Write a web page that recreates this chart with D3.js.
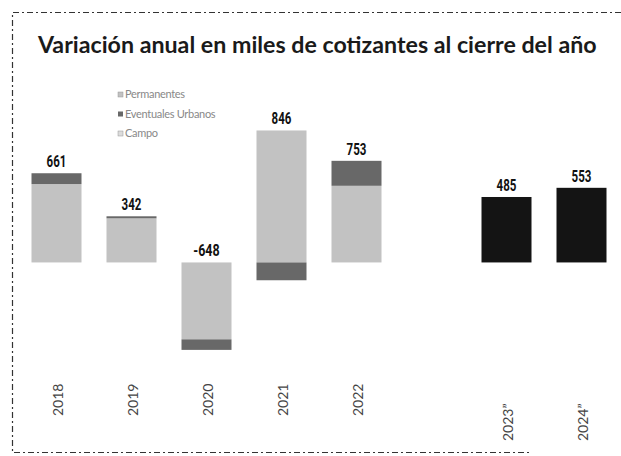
<!DOCTYPE html>
<html><head><meta charset="utf-8">
<script src="https://cdn.jsdelivr.net/npm/d3@7/dist/d3.min.js"></script>
<style>body{margin:0;background:#fff}svg{display:block}</style>
</head><body><svg id="c" width="621" height="456"></svg>
<script>
const categories = ["2018","2019","2020","2021","2022","","2023*","2024*"];
const tickLabels = ["2018","2019","2020","2021","2022","","2023\u201d","2024\u201d"];
const permanentes = [581, 327, -570, 978, 568, null, null, null];
const eventuales  = [80, 15, -78, -132, 185, null, null, null];
const campo       = [0, 0, 0, 0, 0, null, null, null];
const proyeccion  = [null, null, null, null, null, null, 485, 553];
const totals      = [661, 342, -648, 846, 753, null, 485, 553];
const seriesNames = ["Permanentes","Eventuales Urbanos","Campo"];
const seriesColors = ["#c2c2c2","#686868","#dcdcdc"];
const projColor = "#141414";
const title = "Variaci\u00f3n anual en miles de cotizantes al cierre del a\u00f1o";

const svg = d3.select("#c");

// border (dash-dot)
svg.append("path")
  .attr("d", d3.line()([[621,12.5],[12.5,12.5],[12.5,452.5],[532,452.5]]))
  .attr("fill","none").attr("stroke","#333").attr("stroke-width",1.2)
  .attr("stroke-dasharray","6,3,2,3");

const t = svg.append("text").attr("x",38).attr("y",53)
  .attr("font-family","Lato, 'Open Sans', sans-serif").attr("font-weight","bold")
  .attr("font-size",19).attr("fill","#1a1a1a").text(title);
const tw = t.node().getComputedTextLength();
t.attr("font-size", 19*559/tw);

const x = d3.scaleBand().domain(categories).range([19,619]).paddingInner(1/3).paddingOuter(1/6);
const y = d3.scaleLinear().domain([-660, 1000]).range([351.5, 127.5]);

// stacked segments with diverging offsets
const rows = categories.map((c,i)=>({cat:c, Permanentes:permanentes[i]||0, "Eventuales Urbanos":eventuales[i]||0, Campo:campo[i]||0}));
const stack = d3.stack().keys(seriesNames).offset(d3.stackOffsetDiverging);
const layers = stack(rows);
layers.forEach((layer,k)=>{
  svg.append("g").selectAll("rect").data(layer.filter(d=>d[1]!==d[0]))
    .join("rect")
    .attr("x", d=>x(d.data.cat)).attr("width", x.bandwidth())
    .attr("y", d=>y(Math.max(d[0],d[1]))).attr("height", d=>Math.abs(y(d[0])-y(d[1])))
    .attr("fill", seriesColors[k]);
});
// projection bars
svg.append("g").selectAll("rect").data(categories.map((c,i)=>({c,v:proyeccion[i]})).filter(d=>d.v!=null))
  .join("rect").attr("x",d=>x(d.c)).attr("width",x.bandwidth())
  .attr("y",d=>y(d.v)).attr("height",d=>y(0)-y(d.v)).attr("fill",projColor);

// value labels
svg.append("g").selectAll("text").data(categories.map((c,i)=>{
    const pos = Math.max(0,permanentes[i]||0)+Math.max(0,eventuales[i]||0)+Math.max(0,campo[i]||0)+Math.max(0,proyeccion[i]||0);
    return {c, v:totals[i], top:pos};
  }).filter(d=>d.v!=null))
  .join("text").attr("x",d=>x(d.c)+x.bandwidth()/2).attr("y",d=>y(d.top)-6)
  .attr("text-anchor","middle").attr("font-family","Roboto, 'Liberation Sans', sans-serif")
  .attr("font-weight","bold").attr("font-size",17).attr("fill","#111")
  .attr("textLength", d=>String(d.v).length*6.6).attr("lengthAdjust","spacingAndGlyphs")
  .text(d=>String(d.v));

// x axis labels (rotated)
const xAxis = d3.axisBottom(x).tickSize(0).tickFormat((d,i)=>tickLabels[i]);
const gx = svg.append("g").attr("transform","translate(0,380)").call(xAxis);
gx.select(".domain").remove();
gx.selectAll("text")
  .attr("font-family","Lato, 'Open Sans', sans-serif").attr("font-size",14).attr("fill","#444")
  .attr("text-anchor","start")
  .attr("transform",(d,i)=> i>=6 ? "translate(6,61) rotate(-90)" : "translate(6,36) rotate(-90)")
  .attr("x",0).attr("y",0).attr("dy",0);

// legend
const lg = svg.append("g").attr("transform","translate(118,98)");
seriesNames.forEach((n,i)=>{
  const g = lg.append("g").attr("transform",`translate(0,${i*19.5})`);
  g.append("rect").attr("x",0).attr("y",-6).attr("width",5).attr("height",5).attr("fill",seriesColors[i]).attr("stroke", i===1?"none":"#999").attr("stroke-width",0.5);
  g.append("text").attr("x",7).attr("y",0).attr("font-family","Lato, 'Open Sans', sans-serif")
    .attr("font-size",11).attr("fill","#888").attr("letter-spacing","-0.3").text(n);
});
</script></body></html>
